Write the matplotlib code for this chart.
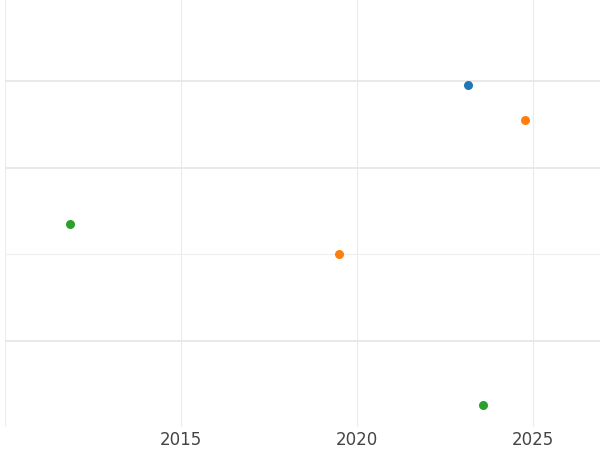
import matplotlib
matplotlib.use("Agg")
import matplotlib.pyplot as plt

blue_x = [2023.14]
blue_y = [2.96]
orange_x = [2024.76, 2019.5]
orange_y = [2.55, 1.0]
green_x = [2011.86, 2023.58]
green_y = [1.35, -0.74]

fig = plt.figure(figsize=(6, 4.5), dpi=100)
ax = fig.add_axes([5/600, 1-427/450, 595/600, 427/450])
ax.scatter(blue_x, blue_y, color="#1f77b4", s=30, zorder=3)
ax.scatter(orange_x, orange_y, color="#ff7f0e", s=30, zorder=3)
ax.scatter(green_x, green_y, color="#2ca02c", s=30, zorder=3)
ax.set_xlim(2010.0, 2026.9)
ax.set_ylim(-1.0, 3.94)
ax.set_xticks([2010, 2015, 2020, 2025])
ax.set_xticklabels(["", "2015", "2020", "2025"])
ax.set_yticks([0, 2, 3])
ax.set_yticks([1], minor=True)
ax.set_yticklabels([])
ax.grid(True, which="major", axis="y", color="#e5e5e5", lw=1.2)
ax.grid(True, which="major", axis="x", color="#ececec", lw=0.8)
ax.grid(True, which="minor", axis="y", color="#eeeeee", lw=0.8)
ax.set_axisbelow(True)
for s in ax.spines.values():
    s.set_visible(False)
ax.tick_params(length=0, labelsize=12, colors="#444444", pad=3)
ax.tick_params(which="minor", length=0)
fig.savefig("out.png", dpi=100)
